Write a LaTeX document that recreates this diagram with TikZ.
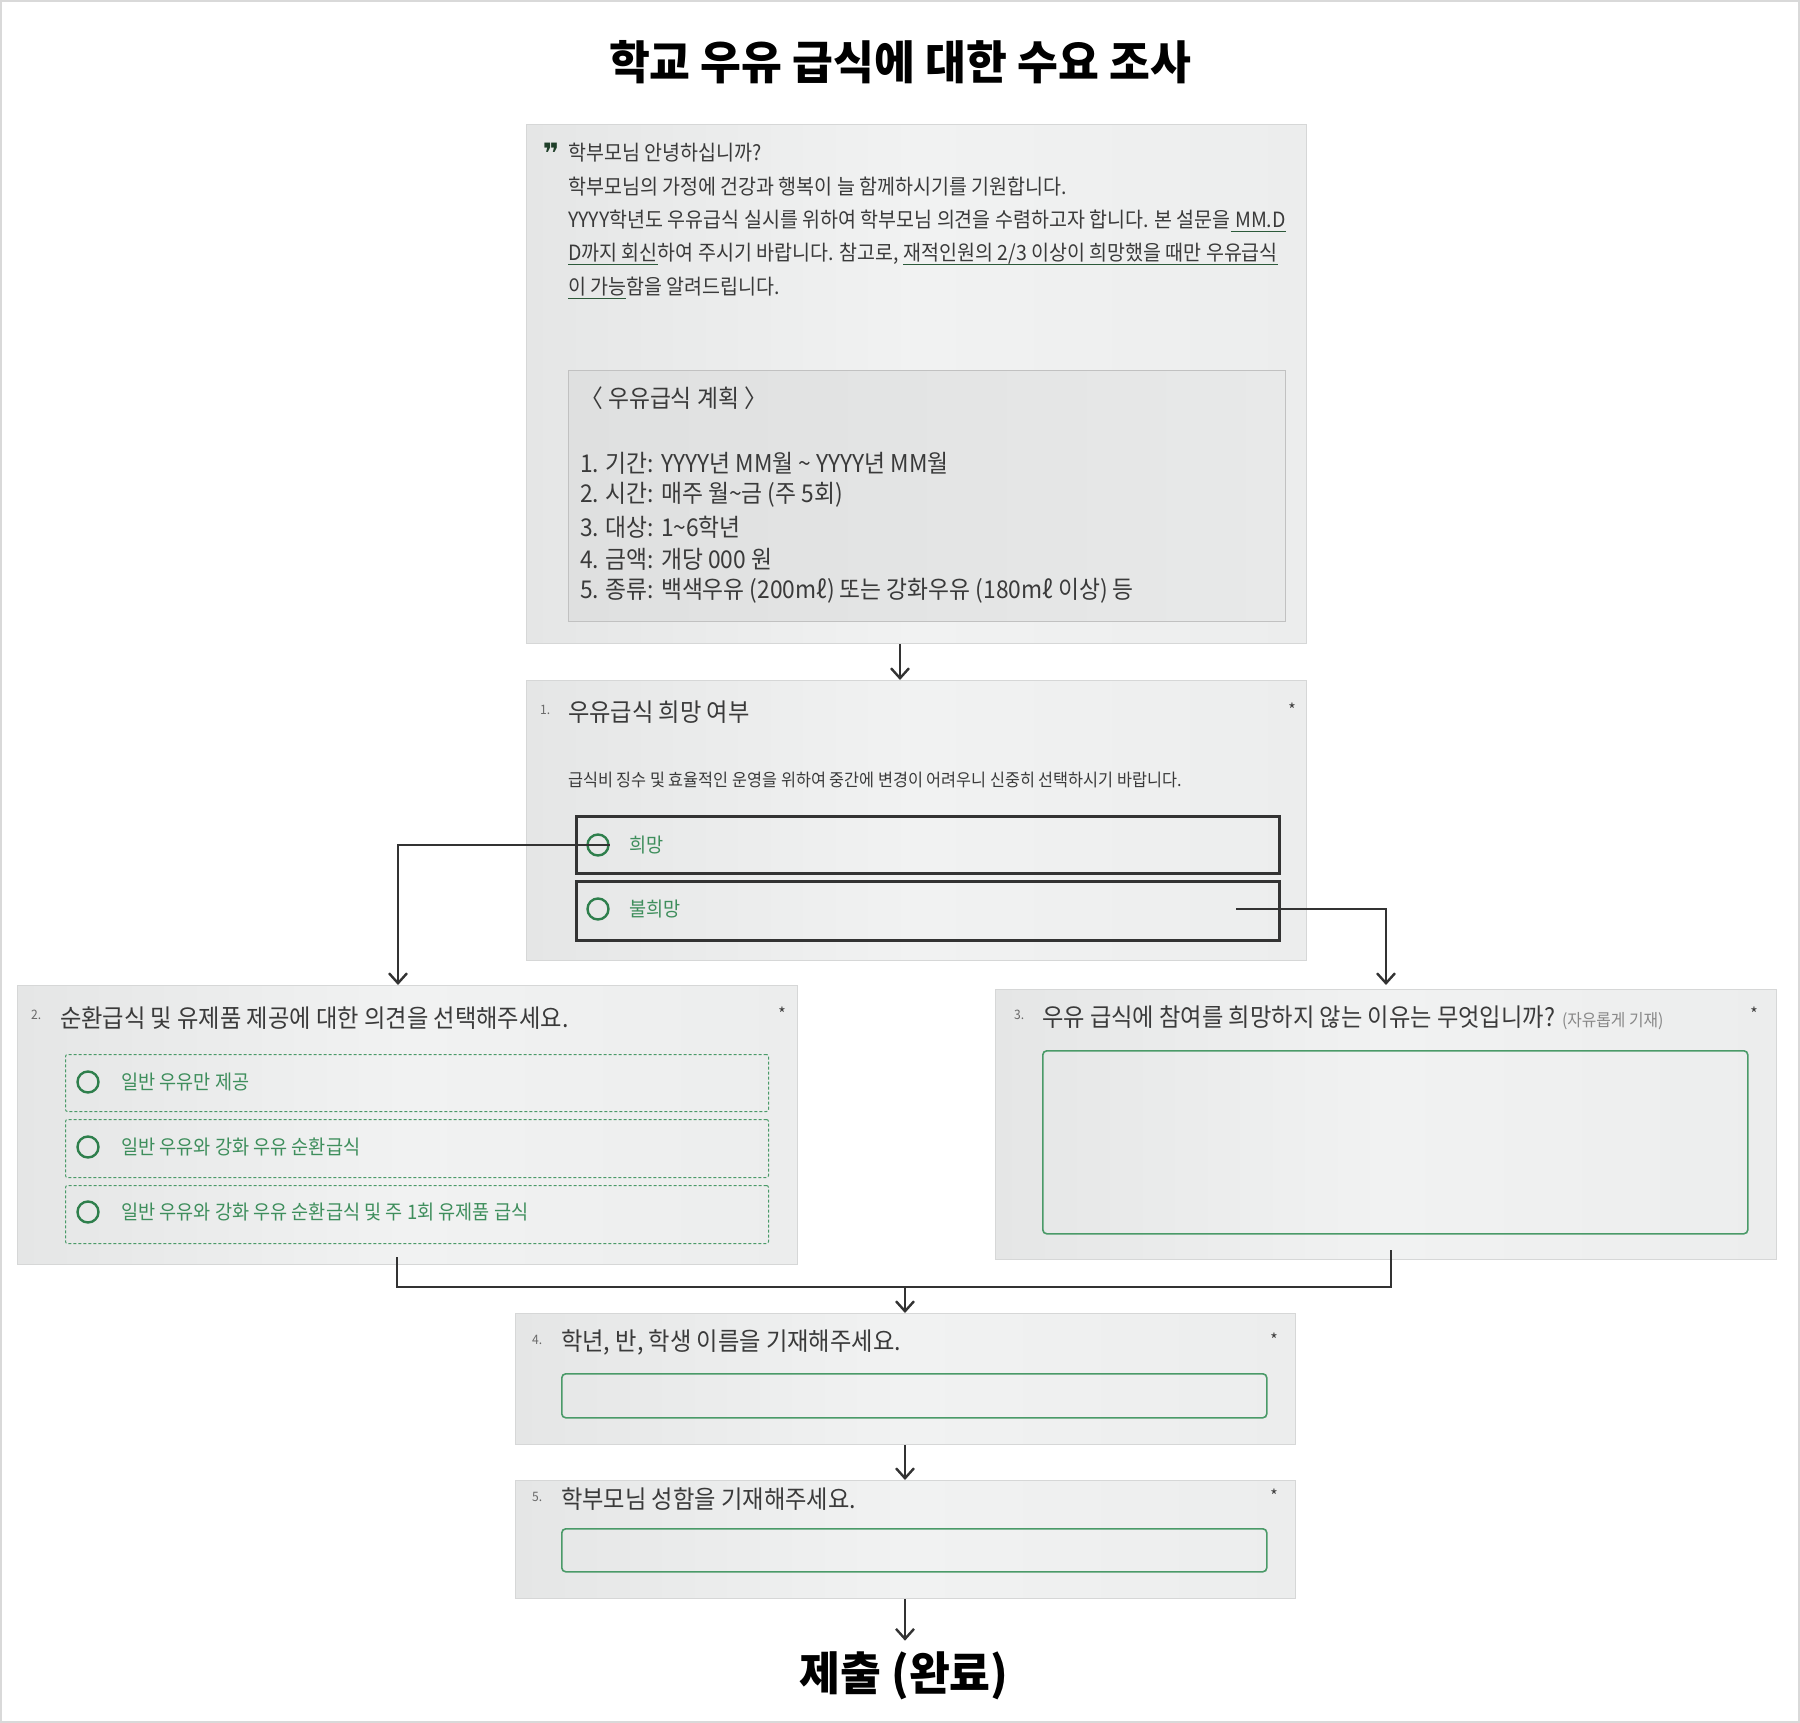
\documentclass[tikz,border=0pt]{standalone}
\usepackage{fontspec}
\setmainfont{Noto Sans CJK KR}
\newfontfamily\kr{Noto Sans CJK KR}[FakeStretch=0.93]
\newfontfamily\krt{Noto Sans CJK KR}[FakeStretch=0.965]
\newfontfamily\djvfont{DejaVu Sans}
\usetikzlibrary{arrows.meta}
\definecolor{txt}{HTML}{3A3A3A}
\definecolor{numgray}{HTML}{6A6A6A}
\definecolor{optgreen}{HTML}{3E8E5C}
\definecolor{circgreen}{HTML}{2E7F4C}
\definecolor{ulgreen}{HTML}{2C5A3A}
\definecolor{boxgreen}{HTML}{4A9A68}
\definecolor{panelA}{HTML}{E5E6E6}
\definecolor{panelB}{HTML}{ECEDED}
\definecolor{panelM}{HTML}{F1F2F2}
\definecolor{panelline}{HTML}{D6D7D7}
\definecolor{innerA}{HTML}{DFE0E0}
\definecolor{innerB}{HTML}{E8E9E9}
\definecolor{conncol}{HTML}{333333}
\newcommand\ulx[1]{\setbox0\hbox{#1}\rlap{\textcolor{ulgreen}{\rule[-5pt]{\wd0}{1.3pt}}}\box0}
\tikzset{
  panel/.style={draw=panelline, line width=1.2pt, left color=panelA, right color=panelB, middle color=panelM, anchor=north west, inner sep=0, rectangle},
  innerpanel/.style={draw=panelline!90!black, line width=1pt, left color=innerA, right color=innerB, anchor=north west, inner sep=0},
  bigtitle/.style={font=\krt\bfseries\fontsize{46}{50}\selectfont, text=black, inner sep=0},
  intro/.style={font=\kr\fontsize{21}{25}\selectfont, text=txt, anchor=west, inner sep=0},
  plan/.style={font=\kr\fontsize{24.5}{29}\selectfont, text=txt, anchor=west, inner sep=0},
  qtitle/.style={font=\kr\fontsize{25}{28}\selectfont, text=txt, anchor=west, inner sep=0},
  qnum/.style={font=\kr\fontsize{13}{14}\selectfont, text=numgray, anchor=west, inner sep=0},
  star/.style={font=\kr\fontsize{17}{18}\selectfont, text=txt, inner sep=0},
  desc/.style={font=\kr\fontsize{17.5}{20}\selectfont, text=txt, anchor=west, inner sep=0},
  opttext/.style={font=\kr\fontsize{20}{24}\selectfont, text=optgreen, anchor=west, inner sep=0},
  radio/.style={circle, draw=circgreen, line width=2.4pt, minimum size=21pt, inner sep=0},
  darkopt/.style={draw=conncol, line width=3pt, anchor=north west, inner sep=0},
  dashopt/.style={draw=boxgreen, line width=1pt, dashed, dash pattern=on 3pt off 2pt, rounded corners=2pt, anchor=north west, inner sep=0},
  inputbox/.style={draw=boxgreen, line width=1.6pt, rounded corners=4pt, anchor=north west, inner sep=0},
  conn/.style={draw=conncol, line width=2.6pt},
  connarrow/.style={conn, -{Straight Barb[length=10pt,width=18pt,line width=2.4pt]}},
}
\begin{document}
\begin{tikzpicture}[x=1pt,y=-1pt]
\useasboundingbox (0,0) rectangle (1800,1723);
\fill[white] (0,0) rectangle (1800,1723);
\draw[gray!30, line width=2pt] (1,1) rectangle (1799,1722);

% title
\node[bigtitle] (title) at (900,62) {학교 우유 급식에 대한 수요 조사};

% ---------- Box 1 ----------
\node[panel, minimum width=780pt, minimum height=519pt] (b1) at (526,124) {};
\node[font=\djvfont\bfseries\fontsize{28}{30}\selectfont, text=ulgreen!70!black, inner sep=0] (quote) at (551,153) {❞};
\node[intro] (l1) at (568,153) {학부모님 안녕하십니까?};
\node[intro] (l2) at (568,187) {학부모님의 가정에 건강과 행복이 늘 함께하시기를 기원합니다.};
\node[intro] (l3) at (568,221) {YYYY학년도 우유급식 실시를 위하여 학부모님 의견을 수렴하고자 합니다. 본 설문을\ulx{ MM.D}};
\node[intro] (l4) at (568,254) {\ulx{D까지 회신}하여 주시기 바랍니다. 참고로, \ulx{재적인원의 2/3 이상이 희망했을 때만 우유급식}};
\node[intro] (l5) at (568,288) {\ulx{이 가능}함을 알려드립니다.};

\node[innerpanel, minimum width=717pt, minimum height=251pt] (plan) at (568,370) {};
\node[plan] (ph) at (580,398) {〈 우유급식 계획 〉};
\node[plan] (p1) at (580,463) {1. 기간: YYYY년 MM월 \textasciitilde{} YYYY년 MM월};
\node[plan] (p2) at (580,495) {2. 시간: 매주 월\textasciitilde{}금 (주 5회)};
\node[plan] (p3) at (580,527) {3. 대상: 1\textasciitilde{}6학년};
\node[plan] (p4) at (580,559) {4. 금액: 개당 000 원};
\node[plan] (p5) at (580,591) {5. 종류: 백색우유 (200mℓ) 또는 강화우유 (180mℓ 이상) 등};

% ---------- Box 2 (Q1) ----------
\node[panel, minimum width=780pt, minimum height=280pt] (b2) at (526,680) {};
\node[qnum] (n1) at (540,710) {1.};
\node[qtitle] (t1) at (568,712) {우유급식 희망 여부};
\node[star] (s1) at (1292,710) {*};
\node[desc] (d1) at (568,780) {급식비 징수 및 효율적인 운영을 위하여 중간에 변경이 어려우니 신중히 선택하시기 바랍니다.};
\node[darkopt, minimum width=703pt, minimum height=57pt] (o1) at (575,815) {};
\node[darkopt, minimum width=703pt, minimum height=59pt] (o2) at (575,880) {};
\node[radio] (c1) at (598,845) {};
\node[radio] (c2) at (598,909) {};
\node[opttext] (ot1) at (629,845) {희망};
\node[opttext] (ot2) at (629,909) {불희망};

% ---------- Q2 ----------
\node[panel, minimum width=780pt, minimum height=279pt] (q2) at (17,985) {};
\node[qnum] (n2) at (31,1015) {2.};
\node[qtitle] (t2) at (60,1018) {순환급식 및 유제품 제공에 대한 의견을 선택해주세요.};
\node[star] (s2) at (782,1014) {*};
\node[dashopt, minimum width=703pt, minimum height=57pt] (a1) at (65,1054) {};
\node[dashopt, minimum width=703pt, minimum height=58pt] (a2) at (65,1119) {};
\node[dashopt, minimum width=703pt, minimum height=58pt] (a3) at (65,1185) {};
\node[radio] (r1) at (88,1082) {};
\node[radio] (r2) at (88,1147) {};
\node[radio] (r3) at (88,1212) {};
\node[opttext] (at1) at (121,1082) {일반 우유만 제공};
\node[opttext] (at2) at (121,1147) {일반 우유와 강화 우유 순환급식};
\node[opttext] (at3) at (121,1212) {일반 우유와 강화 우유 순환급식 및 주 1회 유제품 급식};

% ---------- Q3 ----------
\node[panel, minimum width=781pt, minimum height=270pt] (q3) at (995,989) {};
\node[qnum] (n3) at (1014,1015) {3.};
\node[qtitle] (t3) at (1042,1018) {우유 급식에 참여를 희망하지 않는 이유는 무엇입니까? {\color{numgray!80}\fontsize{17}{20}\selectfont (자유롭게 기재)}};
\node[star] (s3) at (1754,1014) {*};
\node[inputbox, minimum width=705pt, minimum height=183pt] (ta) at (1042,1050) {};

% ---------- Q4 ----------
\node[panel, minimum width=780pt, minimum height=131pt] (q4) at (515,1313) {};
\node[qnum] (n4) at (532,1340) {4.};
\node[qtitle] (t4) at (561,1342) {학년, 반, 학생 이름을 기재해주세요.};
\node[star] (s4) at (1274,1340) {*};
\node[inputbox, minimum width=705pt, minimum height=44pt] (in4) at (561,1373) {};

% ---------- Q5 ----------
\node[panel, minimum width=780pt, minimum height=118pt] (q5) at (515,1480) {};
\node[qnum] (n5) at (532,1497) {5.};
\node[qtitle] (t5) at (561,1499) {학부모님 성함을 기재해주세요.};
\node[star] (s5) at (1274,1496) {*};
\node[inputbox, minimum width=705pt, minimum height=43pt] (in5) at (561,1528) {};

% finish
\node[bigtitle] (done) at (904,1676) {제출 (완료)};

% ---------- connectors ----------
\coordinate (ax) at (900,0);
\coordinate (bx) at (905,0);
\coordinate (lx) at (398,0);
\coordinate (rx) at (1386,0);
\coordinate (nstart) at (1236,909);
\coordinate (m1) at (397,1257);
\coordinate (m2) at (1391,1250);
\coordinate (mj) at (905,1287);

\draw[connarrow] (b1.south -| ax) -- (b2.north -| ax);
\draw[connarrow] (c1.east) -| (q2.north -| lx);
\draw[connarrow] (nstart) -| (q2.north -| rx);
\draw[conn] (m1) |- (m2 |- mj) -- (m2);
\draw[connarrow] (mj) -- (q4.north -| mj);
\draw[connarrow] (q4.south -| bx) -- (q5.north -| bx);
\draw[connarrow, shorten >=11pt] (q5.south -| bx) -- (done.north -| bx);
\end{tikzpicture}
\end{document}
